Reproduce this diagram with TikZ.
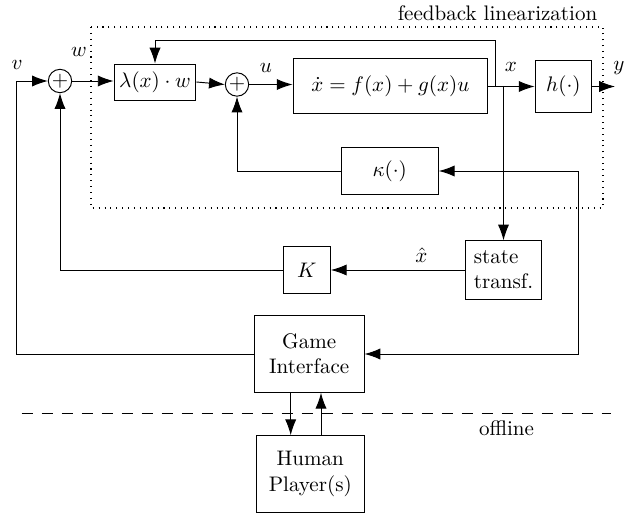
\documentclass[tikz,border=0pt]{standalone}
\usetikzlibrary{arrows.meta,calc}
\begin{document}
\begin{tikzpicture}[x=0.475pt,y=-0.475pt,
  line width=0.45pt,
  >={Latex[length=7.5pt,width=5.3pt]},
  blk/.style={draw,inner sep=1pt,minimum width=#1},
  sumnode/.style={draw,circle,minimum size=11.1pt,inner sep=0pt},
  lbl/.style={inner sep=0pt},
  dotbox/.style={dash pattern=on 0.5pt off 2.3pt,line width=0.6pt},
  dashline/.style={dash pattern=on 5.5pt off 4pt,line width=0.7pt}]
\path[use as bounding box] (0,0) rectangle (641,517);
% dotted frame
\draw[dotbox] (91,27) rectangle (603,208);
\node[lbl] (fltxt) at (497.5,13) {feedback linearization};
% blocks
\node[sumnode] (sum1) at (60,81) {$+$};
\node[blk=38.9pt,minimum height=17.1pt] (lam) at (155,82) {$\lambda(x)\cdot w$};
\node[sumnode] (sum2) at (237,84.5) {$+$};
\node[blk=92.5pt,minimum height=26.5pt] (f) at (390.4,86) {$\dot x = f(x)+g(x)u$};
\node[blk=26.9pt,minimum height=24.8pt] (h) at (563.4,86.5) {$h(\cdot)$};
\node[blk=46.2pt,minimum height=22.5pt] (kap) at (389.7,171) {$\kappa(\cdot)$};
\node[blk=36.5pt,minimum height=27.7pt,align=left] (st) at (503.5,270) {state\\transf.};
\node[blk=22.5pt,minimum height=22.5pt] (K) at (306.7,270) {$K$};
\node[blk=52.1pt,minimum height=36.4pt,align=center] (gi) at (309.2,354) {Game\\Interface};
\node[blk=51.6pt,minimum height=36.4pt,align=center] (hp) at (310.3,474) {Human\\Player(s)};
% coordinates
\coordinate (vc) at (16,81);
\coordinate (tf) at (495.7,86);
\coordinate (xb) at (503.5,86);
\coordinate (kr) at (578,171);
\coordinate (yend) at (615,86.5);
\coordinate (d1) at (290.7,0);
\coordinate (d2) at (321,0);
\coordinate (dl) at (21.7,413.3);
\coordinate (dr) at (610.5,413.3);
% connectors
\draw[->] (gi.west) -| (vc) -- (sum1.west);
\draw[->] (sum1.east) -- (sum1.east -| lam.west);
\draw[->] (lam.east) -- (sum2.west);
\draw[->] (sum2.east) -- (sum2.east -| f.west);
\draw[->] (f.east |- h.west) -- (h.west);
\draw[->] (h.east) -- (yend);
\draw[->] (tf) -- ++(0,-46) -| (lam.north);
\draw[->] (xb) -- (xb |- st.north);
\draw[->] (kr) -- (kap.east);
\draw[->] (kr) |- (gi.east);
\draw[->] (kap.west) -| (sum2.south);
\draw[->] (st.west) -- (K.east);
\draw[->] (K.west) -| (sum1.south);
\draw[->] (gi.south -| d1) -- (hp.north -| d1);
\draw[->] (hp.north -| d2) -- (gi.south -| d2);
\draw[dashline] (dl) -- (dr);
% labels
\node[lbl] (lv) at (17,65) {$v$};
\node[lbl] (lw) at (79,52) {$w$};
\node[lbl] (lu) at (266,68) {$u$};
\node[lbl] (lx) at (511,67) {$x$};
\node[lbl] (ly) at (619,68) {$y$};
\node[lbl] (lxh) at (421.5,255) {$\hat x$};
\node[lbl] (loff) at (506.5,428) {offline};
\end{tikzpicture}
\end{document}
